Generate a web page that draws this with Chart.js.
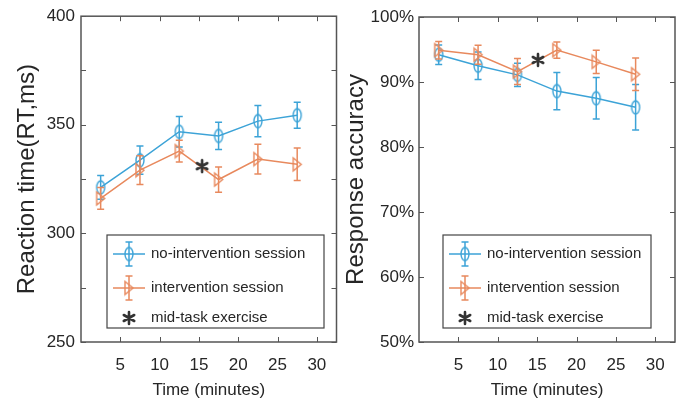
<!DOCTYPE html>
<html>
<head>
<meta charset="utf-8">
<script src="https://cdn.jsdelivr.net/npm/chart.js@4.4.1/dist/chart.umd.min.js"></script>
<style>
  body { margin: 0; background: #fff; }
  #wrap { position: relative; width: 685px; height: 405px; }
  canvas { position: absolute; top: 0; }
</style>
</head>
<body>
<div id="wrap">
  <canvas id="rt-chart" width="342" height="405" style="left:0"></canvas>
  <canvas id="acc-chart" width="343" height="405" style="left:342px"></canvas>
</div>
<script>
// data
const timePoints = [2.5, 7.5, 12.5, 17.5, 22.5, 27.5]
const timeTicks = [5, 10, 15, 20, 25, 30]
const seriesNames = ['no-intervention session', 'intervention session', 'mid-task exercise']

const rtNoIntervention = [321.2, 333.7, 346.8, 344.9, 351.7, 354.4]
const rtNoInterventionErr = [5.5, 6.5, 7.0, 6.3, 7.2, 6.0]
const rtIntervention = [316.1, 329.1, 337.9, 324.8, 334.2, 331.8]
const rtInterventionErr = [5.0, 6.6, 5.0, 5.8, 6.8, 7.5]
const rtExercise = [{ x: 15.4, y: 331 }]
const rtTicks = [250, 275, 300, 325, 350, 375, 400]
const rtLabelled = [250, 300, 350, 400]

const accNoIntervention = [94.2, 92.5, 91.1, 88.6, 87.5, 86.1]
const accNoInterventionErr = [1.5, 2.1, 1.8, 2.85, 3.2, 3.5]
const accIntervention = [94.9, 94.2, 91.6, 94.9, 93.1, 91.2]
const accInterventionErr = [1.35, 1.45, 2.0, 1.25, 1.8, 2.5]
const accExercise = [{ x: 15.1, y: 93.4 }]
const accTicks = [50, 60, 70, 80, 90, 100]

const BLUE = '#3ca3d7'
const ORANGE = '#e8895d'
const AXIS = '#555'
const TEXT = '#262626'

function ellipseMarker(color) {
    let c = document.createElement('canvas')
    c.width = 12; c.height = 17
    let g = c.getContext('2d')
    g.strokeStyle = color
    g.lineWidth = 1.4
    g.beginPath()
    g.ellipse(6, 8.5, 4, 6.5, 0, 0, 2 * Math.PI)
    g.stroke()
    return c
}

function triangleMarker(color) {
    let c = document.createElement('canvas')
    c.width = 12; c.height = 17
    let g = c.getContext('2d')
    g.strokeStyle = color
    g.lineWidth = 1.4
    g.beginPath()
    g.moveTo(2, 2)
    g.lineTo(10, 8.5)
    g.lineTo(2, 15)
    g.closePath()
    g.stroke()
    return c
}

// bold six-armed asterisk like the matlab one
function asteriskMarker(color) {
    let c = document.createElement('canvas')
    c.width = 16; c.height = 16
    let g = c.getContext('2d')
    g.strokeStyle = color
    g.lineWidth = 2.6
    g.lineCap = 'round'
    g.beginPath()
    for (let k = 0; k < 3; k++) {
        let a = Math.PI / 2 + k * Math.PI / 3
        g.moveTo(8 + 6 * Math.cos(a), 8 + 6 * Math.sin(a))
        g.lineTo(8 - 6 * Math.cos(a), 8 - 6 * Math.sin(a))
    }
    g.stroke()
    return c
}

function drawErrorBar(ctx, x, yTop, yBottom, cap) {
    ctx.moveTo(x, yTop); ctx.lineTo(x, yBottom)
    ctx.moveTo(x - cap, yTop); ctx.lineTo(x + cap, yTop)
    ctx.moveTo(x - cap, yBottom); ctx.lineTo(x + cap, yBottom)
}

const errorBarPlugin = {
    id: 'errorBars',
    afterDatasetDraw(chart, args) {
        let ds = chart.data.datasets[args.index]
        if (!ds.errorBars) return
        let ctx = chart.ctx
        let y = chart.scales.y
        ctx.save()
        ctx.strokeStyle = ds.borderColor
        ctx.lineWidth = 1.5
        ctx.beginPath()
        args.meta.data.forEach((pt, i) => {
            let v = ds.data[i].y
            let e = ds.errorBars[i]
            drawErrorBar(ctx, pt.x, y.getPixelForValue(v + e), y.getPixelForValue(v - e), 3.5)
        })
        ctx.stroke()
        ctx.restore()
    }
}

const boxPlugin = {
    id: 'boxAxes',
    afterDraw(chart) {
        let { ctx, chartArea: a, scales } = chart
        ctx.save()
        ctx.strokeStyle = AXIS
        ctx.lineWidth = 1
        ctx.beginPath()
        scales.x.ticks.forEach(t => {
            let px = Math.round(scales.x.getPixelForValue(t.value)) + 0.5
            ctx.moveTo(px, a.bottom); ctx.lineTo(px, a.bottom - 5)
            ctx.moveTo(px, a.top); ctx.lineTo(px, a.top + 5)
        })
        scales.y.ticks.forEach(t => {
            let py = Math.round(scales.y.getPixelForValue(t.value)) + 0.5
            ctx.moveTo(a.left, py); ctx.lineTo(a.left + 5, py)
            ctx.moveTo(a.right, py); ctx.lineTo(a.right - 5, py)
        })
        ctx.stroke()
        ctx.lineWidth = 1.5
        ctx.strokeRect(a.left, a.top, a.right - a.left, a.bottom - a.top)

        // legend box
        let o = chart.options.plugins.boxLegend
        ctx.fillStyle = '#fff'
        ctx.fillRect(o.left, o.top, o.width, o.height)
        ctx.strokeStyle = '#444'
        ctx.lineWidth = 1.2
        ctx.strokeRect(o.left, o.top, o.width, o.height)
        ctx.font = '15px Arial, "Liberation Sans", sans-serif'
        ctx.textBaseline = 'middle'
        ctx.textAlign = 'left'
        chart.data.datasets.forEach((ds, i) => {
            let y = o.top + o.rows[i]
            let x0 = o.left
            ctx.strokeStyle = ds.borderColor
            if (ds.errorBars) {
                ctx.lineWidth = 1.5
                ctx.beginPath()
                ctx.moveTo(x0 + 6, y); ctx.lineTo(x0 + 38, y)
                drawErrorBar(ctx, x0 + 22, y - 12, y + 12, 3.5)
                ctx.stroke()
            }
            let m = ds.pointStyle
            ctx.drawImage(m, x0 + 22 - m.width / 2, y - m.height / 2)
            ctx.fillStyle = TEXT
            ctx.fillText(ds.label, x0 + 44, y)
        })
        ctx.restore()
    }
}

function toPoints(ys) {
    return ys.map((y, i) => ({ x: timePoints[i], y: y }))
}

function makeChart(id, s) {
    const ctx = document.getElementById(id).getContext('2d')
    return new Chart(ctx, {
        type: 'line',
        data: {
            datasets: [{
                label: seriesNames[0],
                data: toPoints(s.noInt),
                errorBars: s.noIntErr,
                borderColor: BLUE,
                backgroundColor: BLUE,
                borderWidth: 1.5,
                pointStyle: ellipseMarker(BLUE),
                fill: false,
                order: 2
            }, {
                label: seriesNames[1],
                data: toPoints(s.int),
                errorBars: s.intErr,
                borderColor: ORANGE,
                backgroundColor: ORANGE,
                borderWidth: 1.5,
                pointStyle: triangleMarker(ORANGE),
                fill: false,
                order: 1
            }, {
                label: seriesNames[2],
                data: s.exercise,
                showLine: false,
                borderColor: '#333',
                backgroundColor: '#333',
                pointStyle: asteriskMarker('#333'),
                order: 0
            }]
        },
        options: {
            responsive: false,
            animation: false,
            events: [],
            layout: { padding: s.padding },
            plugins: {
                legend: { display: false },
                tooltip: { enabled: false },
                boxLegend: s.legend
            },
            scales: {
                x: {
                    type: 'linear',
                    min: 0,
                    max: 32.5,
                    afterBuildTicks: scale => { scale.ticks = timeTicks.map(v => ({ value: v })) },
                    afterFit: scale => { scale.height = 63 },
                    grid: { display: false, drawTicks: false },
                    border: { display: false },
                    ticks: {
                        padding: 13,
                        color: TEXT,
                        font: { family: 'Arial, "Liberation Sans", sans-serif', size: 17 }
                    },
                    title: {
                        display: true,
                        text: 'Time (minutes)',
                        color: TEXT,
                        padding: { top: 0, bottom: 4 },
                        font: { family: 'Arial, "Liberation Sans", sans-serif', size: 17 }
                    }
                },
                y: {
                    min: s.yTicks[0],
                    max: s.yTicks[s.yTicks.length - 1],
                    afterBuildTicks: scale => { scale.ticks = s.yTicks.map(v => ({ value: v })) },
                    afterFit: scale => { scale.width = s.yWidth },
                    grid: { display: false, drawTicks: false },
                    border: { display: false },
                    ticks: {
                        padding: s.tickPad,
                        color: TEXT,
                        callback: s.yLabel,
                        font: { family: 'Arial, "Liberation Sans", sans-serif', size: 17 }
                    },
                    title: {
                        display: true,
                        text: s.yTitle,
                        color: TEXT,
                        padding: { top: s.titlePad, bottom: 0 },
                        font: { family: 'Arial, "Liberation Sans", sans-serif', size: 24 }
                    }
                }
            }
        },
        plugins: [errorBarPlugin, boxPlugin]
    })
}

makeChart('rt-chart', {
    noInt: rtNoIntervention, noIntErr: rtNoInterventionErr,
    int: rtIntervention, intErr: rtInterventionErr,
    exercise: rtExercise,
    yTicks: rtTicks,
    yLabel: v => rtLabelled.includes(v) ? v : '',
    yTitle: 'Reaction time(RT,ms)',
    yWidth: 81, tickPad: 6, titlePad: 13,
    padding: { left: 0, top: 16, right: 5, bottom: 0 },
    legend: { left: 107, top: 235, width: 217, height: 93, rows: [19, 53, 83] }
})

makeChart('acc-chart', {
    noInt: accNoIntervention, noIntErr: accNoInterventionErr,
    int: accIntervention, intErr: accInterventionErr,
    exercise: accExercise,
    yTicks: accTicks,
    yLabel: v => v + '%',
    yTitle: 'Response accuracy',
    yWidth: 77, tickPad: 5, titlePad: 0,
    padding: { left: 0, top: 17, right: 10, bottom: 0 },
    legend: { left: 101, top: 235, width: 208, height: 93, rows: [19, 53, 83] }
})
</script>
</body>
</html>
